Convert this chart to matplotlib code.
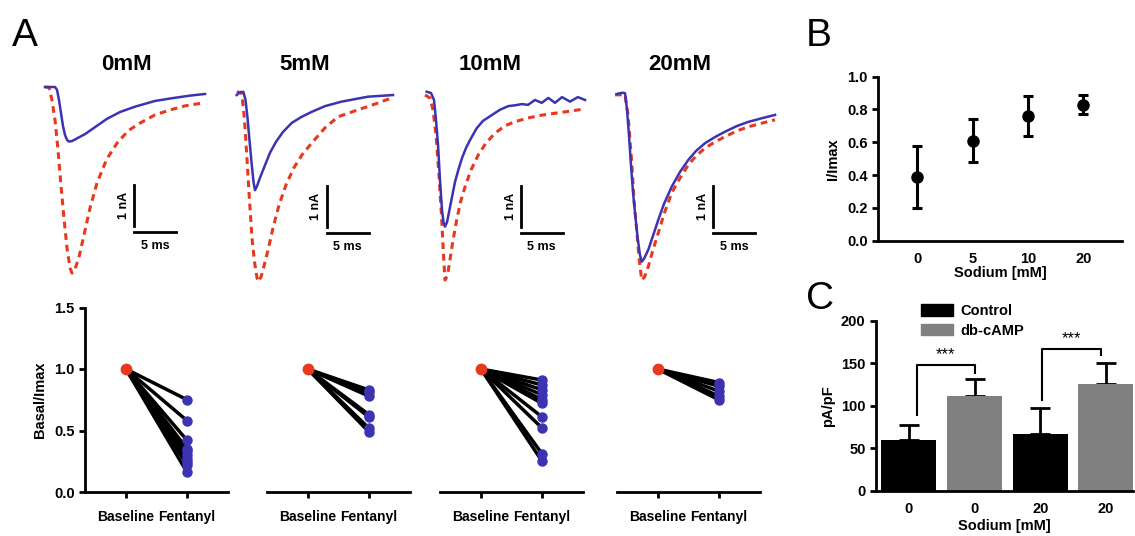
import matplotlib.pyplot as plt
from matplotlib.patches import Patch
from matplotlib.transforms import ScaledTranslation

W, H = 1135, 536
plt.rcParams['font.family'] = ['Liberation Sans', 'DejaVu Sans']
plt.rcParams['font.weight'] = 'bold'
plt.rcParams['axes.labelweight'] = 'bold'

BLUE = '#3b33b2'
RED = '#e8391f'
GREY = '#808080'

conc_labels = ['0mM', '5mM', '10mM', '20mM']

# --- A, top: current traces, time in ms and current in nA
# blue = with fentanyl, red dashed = control
t_blue_0 = [0, 1.19, 1.43, 1.67, 1.9, 2.14, 2.38, 2.62, 2.86, 3.21, 3.93, 4.76, 5.95, 7.35,
            8.93, 10.71, 13.1, 15.24, 17.26, 19.05]
i_blue_0 = [0, 0, -0.07, -0.32, -0.63, -0.95, -1.17, -1.29, -1.33, -1.32, -1.24, -1.15, -0.98, -0.78,
            -0.61, -0.48, -0.34, -0.27, -0.21, -0.17]
t_red_0 = [0, 0.48, 0.83, 1.19, 1.55, 1.9, 2.26, 2.62, 2.98, 3.21, 3.57, 4.05, 4.64, 5.36, 6.19,
           7.35, 8.57, 9.88, 11.31, 13.1, 14.88, 16.67, 18.81]
i_red_0 = [0, -0.01, -0.32, -0.8, -1.54, -2.39, -3.2, -3.93, -4.41, -4.54, -4.44, -4.15, -3.61, -2.95, -2.34,
           -1.76, -1.37, -1.07, -0.88, -0.68, -0.56, -0.46, -0.39]

t_blue_5 = [0, 0.39, 0.79, 1.05, 1.29, 1.52, 1.76, 2.0, 2.18, 2.42, 2.77, 3.37, 3.96, 4.68, 5.51,
            6.55, 7.65, 8.93, 10.51, 12.5, 15.63, 18.61]
i_blue_5 = [-0.05, 0.02, 0.03, -0.17, -0.61, -1.15, -1.68, -2.17, -2.37, -2.27, -2.07, -1.76, -1.46, -1.19, -0.95,
            -0.73, -0.59, -0.46, -0.32, -0.21, -0.09, -0.05]
t_red_5 = [0, 0.6, 0.93, 1.23, 1.52, 1.82, 2.12, 2.42, 2.57, 2.89, 3.25, 3.73, 4.32, 5.04, 5.87,
           6.79, 7.77, 8.93, 10.51, 12.06, 14.44, 16.46, 18.45]
i_red_5 = [0.03, 0, -0.66, -1.63, -2.61, -3.54, -4.12, -4.51, -4.6, -4.49, -4.22, -3.83, -3.29, -2.73, -2.24,
           -1.83, -1.51, -1.22, -0.85, -0.58, -0.41, -0.27, -0.12]

t_blue_10 = [0, 0.51, 0.87, 1.11, 1.35, 1.58, 1.82, 2.0, 2.18, 2.42, 2.71, 3.01, 3.37, 3.76, 4.2, 4.68,
             5.15, 5.95, 6.7, 7.74, 8.71, 9.71, 10.51, 11.35, 12.06, 12.89, 13.69, 14.48, 15.27,
             16.11, 17.06, 18.0, 18.85]
i_blue_10 = [0.03, 0, -0.17, -0.66, -1.27, -2.12, -2.85, -3.15, -3.26, -3.15, -2.85, -2.54, -2.17, -1.88, -1.59, -1.34,
             -1.15, -0.86, -0.68, -0.54, -0.41, -0.32, -0.3, -0.27, -0.29, -0.17, -0.24, -0.12, -0.24,
             -0.1, -0.21, -0.1, -0.17]
t_red_10 = [-0.2, 0.39, 0.75, 1.11, 1.46, 1.76, 2.0, 2.18, 2.48, 2.77, 3.13, 3.57, 4.02, 4.56, 5.27,
            6.14, 7.06, 8.13, 9.32, 10.51, 12.06, 13.69, 16.46, 18.45]
i_red_10 = [-0.05, -0.12, -0.41, -1.02, -2.0, -2.98, -3.95, -4.56, -4.44, -4.07, -3.59, -3.1, -2.66, -2.29, -1.88,
            -1.51, -1.22, -0.98, -0.8, -0.7, -0.61, -0.54, -0.46, -0.4]

t_blue_20 = [0, 0.63, 0.99, 1.23, 1.46, 1.7, 1.94, 2.18, 2.48, 2.77, 2.98, 3.25, 3.76, 4.32, 4.95, 5.63,
             6.55, 7.54, 8.52, 9.44, 10.51, 11.7, 12.89, 14.32, 15.67, 17.3, 18.85]
i_blue_20 = [0, 0.03, 0.02, -0.39, -1.0, -1.73, -2.39, -2.9, -3.49, -3.93, -4.09, -4.02, -3.8, -3.46, -3.07, -2.68,
             -2.26, -1.9, -1.61, -1.39, -1.2, -1.05, -0.92, -0.78, -0.68, -0.59, -0.51]
t_red_20 = [-0.2, 0.99, 1.35, 1.79, 2.06, 2.38, 2.66, 2.98, 3.32, 3.76, 4.32, 4.95, 5.63, 6.55, 7.54,
            8.52, 9.44, 10.51, 11.7, 12.89, 14.32, 15.67, 17.3, 18.85]
i_red_20 = [-0.02, -0.02, -0.51, -1.68, -2.59, -3.32, -4.0, -4.54, -4.46, -4.21, -3.8, -3.39, -2.93, -2.41, -2.05,
            -1.73, -1.51, -1.32, -1.17, -1.04, -0.9, -0.8, -0.71, -0.63]

blue_traces = [(t_blue_0, i_blue_0), (t_blue_5, i_blue_5), (t_blue_10, i_blue_10), (t_blue_20, i_blue_20)]
red_traces = [(t_red_0, i_red_0), (t_red_5, i_red_5), (t_red_10, i_red_10), (t_red_20, i_red_20)]

# --- A, bottom: Basal/Imax, baseline = 1, each cell after fentanyl
baseline_val = 1.0
fentanyl_0 = [0.75, 0.58, 0.42, 0.35, 0.33, 0.3, 0.27, 0.24, 0.22, 0.16]
fentanyl_5 = [0.83, 0.81, 0.78, 0.63, 0.61, 0.52, 0.49]
fentanyl_10 = [0.91, 0.87, 0.83, 0.79, 0.75, 0.72, 0.61, 0.52, 0.31, 0.25]
fentanyl_20 = [0.89, 0.86, 0.82, 0.78, 0.75]
fentanyl_sets = [fentanyl_0, fentanyl_5, fentanyl_10, fentanyl_20]
pair_labels = ['Baseline', 'Fentanyl']

# --- B
b_labels = ['0', '5', '10', '20']
b_mean = [0.39, 0.61, 0.76, 0.83]
b_err = [0.19, 0.13, 0.12, 0.06]

# --- C
c_labels = ['0', '0', '20', '20']
c_mean = [60, 112, 67, 126]
c_err = [17, 20, 30, 24]
c_colors = ['black', GREY, 'black', GREY]

FS = 10.5


def box(l, t, r, b):
    return [l / W, 1 - b / H, (r - l) / W, (b - t) / H]


def ftext(x, y, s, **kw):
    fig.text(x / W, 1 - y / H, s, **kw)


fig = plt.figure(figsize=(W / 100, H / 100), dpi=100)

PX_MS, PX_NA = 8.4, 41.0
origins = [(45, 87), (236.7, 93), (426.7, 93), (616.7, 94)]
sbar = [(10.6, -2.39), (10.7, -2.27), (11.2, -2.27), (11.5, -2.24)]
title_x = [126, 305, 490, 680]

for k in range(4):
    x0, y0 = origins[k]
    ax = fig.add_axes(box(x0 - 10, y0 - 15, x0 + 180, y0 + 205))
    ax.set_xlim(-10 / PX_MS, 180 / PX_MS)
    ax.set_ylim(-205 / PX_NA, 15 / PX_NA)
    ax.axis('off')
    ax.plot(*red_traces[k], color=RED, lw=2.2, ls=(0, (2.2, 1.6)))
    ax.plot(*blue_traces[k], color=BLUE, lw=1.8)
    ts, it = sbar[k]
    ax.plot([ts, ts], [it, it - 1], color='black', lw=2)
    ax.plot([ts, ts + 5], [it - 1.15, it - 1.15], color='black', lw=2)
    ax.text(ts - 0.5, it - 0.5, '1 nA', rotation=90, ha='right', va='center', fontsize=9)
    ax.text(ts + 2.5, it - 1.35, '5 ms', ha='center', va='top', fontsize=9)
    ftext(title_x[k], 64, conc_labels[k], ha='center', va='center', fontsize=16)

# paired plots
pair_left = [85, 266.7, 440, 616.7]
for k in range(4):
    l = pair_left[k]
    ax = fig.add_axes(box(l, 307.5, l + 143, 492))
    ax.set_xlim(-0.67, 1.67)
    ax.set_ylim(0, 1.5)
    for v in fentanyl_sets[k]:
        ax.plot([0, 1], [baseline_val, v], color='black', lw=2.5, solid_capstyle='round', zorder=2)
    ax.plot([1] * len(fentanyl_sets[k]), fentanyl_sets[k], 'o', color=BLUE, ms=6.5, zorder=3)
    ax.plot([0], [baseline_val], 'o', color=RED, ms=7.5, zorder=4)
    ax.set_xticks([0, 1])
    ax.set_xticklabels(pair_labels, fontsize=10)
    lab = ax.get_xticklabels()
    lab[0].set_transform(lab[0].get_transform() + ScaledTranslation(-0.02, 0, fig.dpi_scale_trans))
    lab[1].set_transform(lab[1].get_transform() + ScaledTranslation(0.07, 0, fig.dpi_scale_trans))
    for s in ['top', 'right']:
        ax.spines[s].set_visible(False)
    ax.spines['bottom'].set_linewidth(2)
    ax.tick_params(axis='x', width=2, length=4, pad=9)
    if k == 0:
        ax.spines['left'].set_linewidth(2)
        ax.set_yticks([0, 0.5, 1.0, 1.5])
        ax.set_yticklabels(['0.0', '0.5', '1.0', '1.5'], fontsize=FS)
        ax.tick_params(axis='y', width=2, length=4)
        ax.set_ylabel('Basal/Imax', fontsize=FS, labelpad=5)
    else:
        ax.spines['left'].set_visible(False)
        ax.set_yticks([])

# B
axb = fig.add_axes(box(878, 76.7, 1122, 240.7))
axb.errorbar(range(4), b_mean, yerr=b_err, fmt='o', color='black', ms=8,
             elinewidth=2.2, capsize=3.5, capthick=2.2)
axb.set_xlim(-0.71, 3.7)
axb.set_ylim(0, 1.0)
axb.set_xticks(range(4))
axb.set_xticklabels(b_labels, fontsize=FS)
axb.set_yticks([0, 0.2, 0.4, 0.6, 0.8, 1.0])
axb.set_yticklabels(['0.0', '0.2', '0.4', '0.6', '0.8', '1.0'], fontsize=FS)
axb.set_xlabel('Sodium [mM]', fontsize=FS, labelpad=0)
axb.set_ylabel('I/Imax', fontsize=FS, labelpad=5)
for s in ['top', 'right']:
    axb.spines[s].set_visible(False)
for s in ['left', 'bottom']:
    axb.spines[s].set_linewidth(2)
axb.tick_params(width=2, length=4)
axb.tick_params(axis='x', length=0, pad=8)

# C
axc = fig.add_axes(box(876, 320.7, 1133, 490.7))
axc.bar(range(4), c_mean, width=0.84, color=c_colors, zorder=2)
axc.errorbar(range(4), c_mean, yerr=[[0] * 4, c_err], fmt='none', ecolor='black',
             elinewidth=2, capsize=7, capthick=2, zorder=1)
axc.set_xlim(-0.5, 3.41)
axc.set_ylim(0, 200)
axc.set_xticks(range(4))
axc.set_xticklabels(c_labels, fontsize=FS)
axc.set_yticks([0, 50, 100, 150, 200])
axc.set_yticklabels(['0', '50', '100', '150', '200'], fontsize=FS)
axc.set_xlabel('Sodium [mM]', fontsize=FS, labelpad=2)
axc.set_ylabel('pA/pF', fontsize=FS, labelpad=4)
for s in ['top', 'right']:
    axc.spines[s].set_visible(False)
for s in ['left', 'bottom']:
    axc.spines[s].set_linewidth(2)
axc.tick_params(width=2, length=4)
axc.tick_params(axis='x', length=0, pad=8)
# significance brackets
axc.plot([0.12, 0.12, 1.0, 1.0], [89, 148, 148, 138], color='black', lw=1.5, clip_on=False)
axc.text(0.56, 151, '***', ha='center', va='bottom', fontsize=12, fontweight='normal')
axc.plot([2.02, 2.02, 2.92, 2.92], [107, 167, 167, 160], color='black', lw=1.5, clip_on=False)
axc.text(2.47, 170, '***', ha='center', va='bottom', fontsize=12, fontweight='normal')
handles = [Patch(color='black'), Patch(color=GREY)]
axc.legend(handles, ['Control', 'db-cAMP'], loc='upper left', bbox_to_anchor=(921 / W, 1 - 304 / H),
           bbox_transform=fig.transFigure, frameon=False, borderpad=0, borderaxespad=0,
           handlelength=2.2, handleheight=0.8, handletextpad=0.5, labelspacing=0.4, fontsize=FS)

# panel letters
ftext(12, 36, 'A', fontsize=28, fontweight='normal', va='center')
ftext(806, 36, 'B', fontsize=28, fontweight='normal', va='center')
ftext(806, 299, 'C', fontsize=28, fontweight='normal', va='center')

fig.savefig('out.png', dpi=100)
